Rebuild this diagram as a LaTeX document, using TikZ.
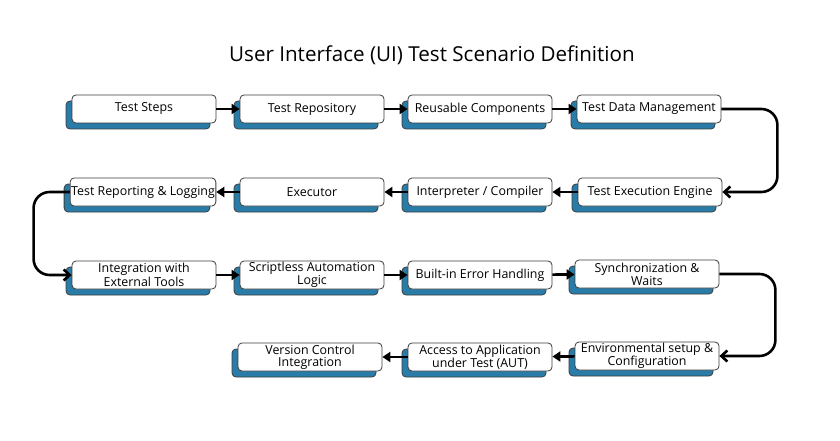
\documentclass[tikz,border=0pt]{standalone}
\usepackage{fontspec}
\setmainfont{Open Sans}
\usetikzlibrary{arrows.meta,shadows,calc}
\definecolor{boxblue}{RGB}{42,124,168}
\definecolor{edge}{RGB}{60,60,60}
\tikzset{
  box/.style={draw=edge, line width=0.8pt, fill=white, rounded corners=4pt,
    minimum width=144pt, minimum height=28pt, inner sep=1pt, align=center,
    font=\fontsize{12.4}{12}\selectfont,
    drop shadow={shadow xshift=-6pt, shadow yshift=-6pt, fill=boxblue, draw=edge, opacity=1}},
  conn/.style={line width=2.6pt, -{Triangle[length=8pt,width=10pt]}},
  loop/.style={line width=2.6pt, rounded corners=16pt, -{Straight Barb[length=6pt,width=11pt,line width=2.6pt]}}
}
\begin{document}
\begin{tikzpicture}[x=1pt,y=-1pt]
\useasboundingbox (0,0) rectangle (840,441);
\node[font=\fontsize{20.6}{21}\selectfont] (title) at (432,55) {User Interface (UI) Test Scenario Definition};
% row 1
\node[box] (n1) at (144,109) {Test Steps};
\node[box] (n2) at (312,109) {Test Repository};
\node[box] (n3) at (480,109) {Reusable Components};
\node[box] (n4) at (649,109) {Test Data Management};
% row 2
\node[box] (n5) at (650,192) {Test Execution Engine};
\node[box] (n6) at (480,192) {Interpreter / Compiler};
\node[box] (n7) at (312,192) {Executor};
\node[box] (n8) at (143,192) {Test Reporting \& Logging};
% row 3
\node[box] (n9) at (144,275) {Integration with\\External Tools};
\node[box] (n10) at (312,275) {Scriptless Automation\\Logic};
\node[box] (n11) at (480,275) {Built-in Error Handling};
\node[box] (n12) at (647,274) {Synchronization \&\\Waits};
% row 4
\node[box] (n13) at (647,356) {Environmental setup \&\\Configuration};
\node[box] (n14) at (480,357) {Access to Application\\under Test (AUT)};
\node[box] (n15) at (310,357) {Version Control\\Integration};
% connectors
\draw[conn] (n1) -- (n2);
\draw[conn] (n2) -- (n3);
\draw[conn] (n3) -- (n4);
\draw[loop] (n4.east) -| ($(n5.east)+(55,0)$) -- (n5.east);
\draw[conn] (n5) -- (n6);
\draw[conn] (n6) -- (n7);
\draw[conn] (n7) -- (n8);
\draw[loop] (n8.west) -| ($(n9.west)+(-38,0)$) -- (n9.west);
\draw[conn] (n9) -- (n10);
\draw[conn] (n10) -- (n11);
\draw[conn] (n11) -- (n12);
\draw[loop] (n12.east) -| ($(n13.east)+(56,0)$) -- (n13.east);
\draw[conn] (n13) -- (n14);
\draw[conn] (n14) -- (n15);
\end{tikzpicture}
\end{document}
